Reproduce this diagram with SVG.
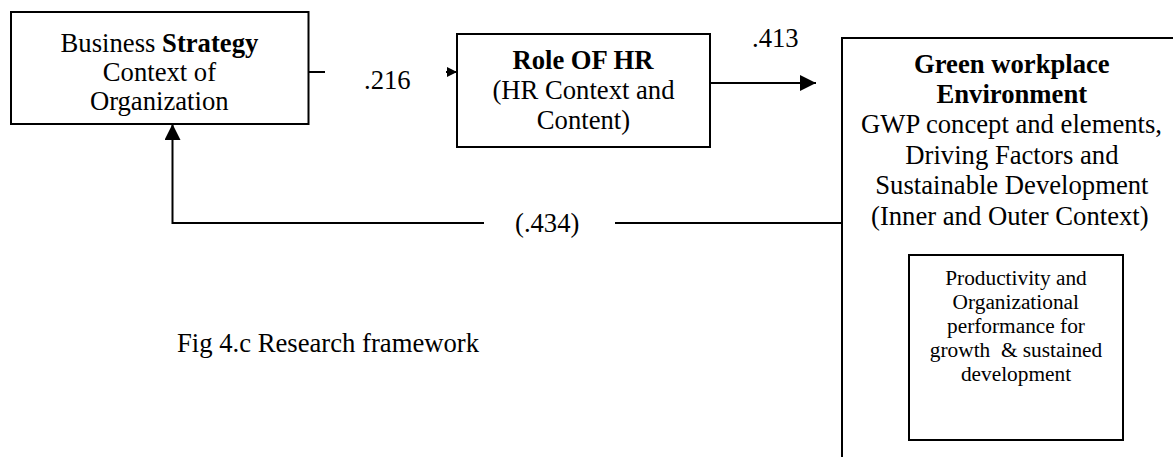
<svg xmlns="http://www.w3.org/2000/svg" width="1173" height="457" viewBox="0 0 1173 457">
<style>
  .box { fill: #ffffff; stroke: #000000; stroke-width: 2; }
  .line { fill: none; stroke: #000000; stroke-width: 2; }
  text { font-family: "Liberation Serif", "Times New Roman", serif; fill: #000000; }
  .big { font-size: 26.67px; }
  .small { font-size: 21.33px; }
  .bold { font-weight: bold; }
</style>
<defs>
  <marker id="arrowBig" viewBox="0 0 16 16" refX="16" refY="8" markerWidth="16" markerHeight="16" markerUnits="userSpaceOnUse" orient="auto">
    <path d="M0,0 L16,8 L0,16 Z" fill="#000000"/>
  </marker>
  <marker id="arrowSmall" viewBox="0 0 10 10" refX="10" refY="5" markerWidth="10" markerHeight="10" markerUnits="userSpaceOnUse" orient="auto">
    <path d="M0,0 L10,5 L0,10 Z" fill="#000000"/>
  </marker>
</defs>
<rect width="1173" height="457" fill="#ffffff"/>

<g id="connectors">
  <line class="line" x1="309" y1="72" x2="325" y2="72"/>
  <line class="line" x1="446" y1="72" x2="457" y2="72" marker-end="url(#arrowSmall)"/>
  <line class="line" x1="710" y1="83" x2="816" y2="83" marker-end="url(#arrowBig)"/>
  <line class="line" x1="842" y1="223" x2="615" y2="223"/>
  <polyline class="line" points="484,223 172.5,223 172.5,124" marker-end="url(#arrowBig)"/>
  <text class="big" x="364" y="89">.216</text>
  <text class="big" x="752" y="47">.413</text>
  <text class="big" x="515" y="232">(.434)</text>
</g>

<g id="strategy">
  <rect class="box" x="11" y="12" width="297.5" height="112"/>
  <text class="big" x="60.6" y="52">Business <tspan class="bold">Strategy</tspan></text>
  <text class="big" x="102.8" y="81">Context of</text>
  <text class="big" x="89.9" y="110">Organization</text>
</g>

<g id="hr-role">
  <rect class="box" x="457" y="34" width="253" height="113"/>
  <text class="big bold" x="512.4" y="69">Role OF HR</text>
  <text class="big" x="492.4" y="99">(HR Context and</text>
  <text class="big" x="536.8" y="129">Content)</text>
</g>

<g id="gwp">
  <rect class="box" x="842" y="38" width="340" height="440"/>
  <text class="big bold" x="914" y="73">Green workplace</text>
  <text class="big bold" x="936.5" y="103">Environment</text>
  <text class="big" x="861" y="133">GWP concept and elements,</text>
  <text class="big" x="905.3" y="163.5">Driving Factors and</text>
  <text class="big" x="875.3" y="194">Sustainable Development</text>
  <text class="big" x="871" y="224.5">(Inner and Outer Context)</text>
</g>

<g id="productivity">
  <rect class="box" x="909" y="255" width="214" height="185"/>
  <text class="small" x="945.2" y="285">Productivity and</text>
  <text class="small" x="952.6" y="309">Organizational</text>
  <text class="small" x="947" y="333">performance for</text>
  <text class="small" x="929.8" y="357" xml:space="preserve">growth  &amp; sustained</text>
  <text class="small" x="960.9" y="381">development</text>
</g>

<g id="caption">
  <text class="big" x="177" y="352">Fig 4.c Research framework</text>
</g>
</svg>
